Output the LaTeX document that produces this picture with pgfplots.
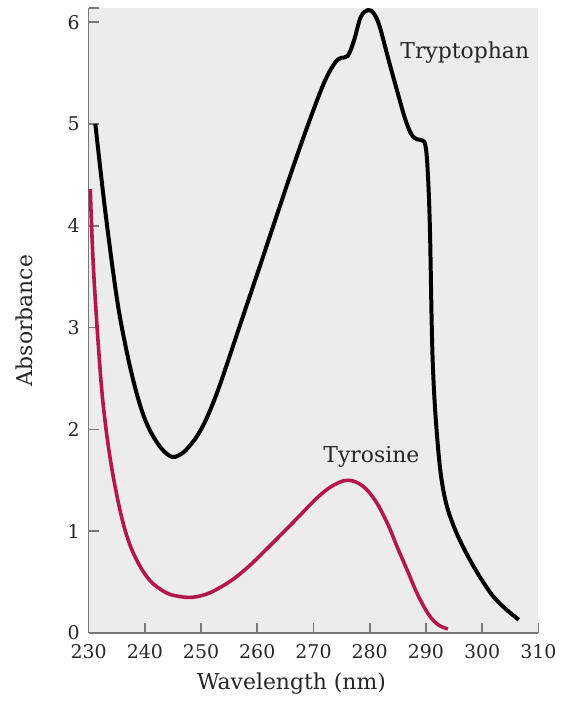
\documentclass[border=0pt]{standalone}
\usepackage{fontspec}
\setmainfont{DejaVu Serif}
\usepackage{pgfplots}
\pgfplotsset{compat=1.18}
\definecolor{tyr}{RGB}{180,22,78}
\definecolor{axgray}{RGB}{120,120,120}
\begin{document}
\begin{tikzpicture}
\begin{axis}[
  scale only axis,
  width=226pt, height=314pt,
  xmin=230, xmax=310, ymin=0, ymax=6.14,
  xtick={230,240,...,310},
  ytick={0,1,...,6},
  extra y ticks={6.14}, extra y tick labels={},
  axis x line*=bottom, axis y line*=left,
  axis line style={-, axgray, line width=0.8pt},
  every tick/.style={axgray, line width=0.8pt},
  tick align=inside,
  major tick length=5pt,
  axis background/.style={fill=gray!15},
  /pgf/number format/assume math mode=true,
  /pgf/number format/1000 sep={},
  tick label style={font=\fontsize{9.5}{11}\selectfont, text=black!85},
  yticklabel style={xshift=-1pt},
  xticklabel style={yshift=-2pt},
  every axis y label/.style={at={(axis description cs:-0.142,0.5)},rotate=90,anchor=center},
  every axis x label/.style={at={(axis description cs:0.451,-0.081)},anchor=center},
  label style={font=\fontsize{11}{13}\selectfont, text=black!85},
  xlabel={Wavelength (nm)},
  ylabel={Absorbance},
  clip=false,
]
\addplot[black, line width=2pt, smooth, tension=0.6] coordinates {
(231.2,5.00) (233.0,4.13) (235.0,3.30) (236.5,2.84) (238.0,2.47) (239.5,2.18)
(241.0,1.98) (243.0,1.81) (244.8,1.73) (246.0,1.745) (247.0,1.78) (248.0,1.84)
(249.0,1.91) (250.0,2.00) (251.0,2.11) (252.0,2.24) (253.5,2.46)
(256.6,2.97) (260.2,3.56) (263.7,4.14) (266.7,4.63) (269.6,5.08)
(272.0,5.42) (273.8,5.60) (274.9,5.65) (276.1,5.67) (277.2,5.82) (278.4,6.05)
(279.7,6.12) (280.8,6.08) (281.8,5.95) (283.4,5.62) (285.0,5.30) (286.3,5.05)
(287.4,4.90) (288.4,4.85) (289.3,4.84) (289.9,4.79) (290.3,4.55) (290.7,3.98)
(291.2,2.67) (292.1,1.85) (293.2,1.37) (295.0,1.04) (298.0,0.70) (301.4,0.40)
(303.9,0.25) (306.5,0.13)
};
\addplot[tyr, line width=1.8pt, smooth, tension=0.6] coordinates {
(230.3,4.36) (230.9,3.55) (232.1,2.55) (233.0,2.05) (234.0,1.66) (235.0,1.36)
(236.0,1.11) (237.0,0.92) (238.0,0.78) (239.0,0.67) (240.0,0.58) (241.0,0.51)
(242.0,0.46) (244.0,0.39) (246.0,0.36) (248.1,0.35) (250.3,0.37)
(252.5,0.42) (255.5,0.52) (258.4,0.65) (261.4,0.81) (264.3,0.97) (267.5,1.15)
(270.5,1.32) (273.2,1.44) (276.0,1.50) (278.6,1.45) (281.0,1.30) (283.2,1.07)
(285.0,0.83) (286.8,0.60) (288.5,0.38) (290.5,0.18) (292.2,0.08) (293.9,0.04)
};
\node[font=\fontsize{11}{13}\selectfont, text=black!85] at (axis cs:296.9,5.70) {Tryptophan};
\node[font=\fontsize{11}{13}\selectfont, text=black!85] at (axis cs:280.3,1.73) {Tyrosine};
\end{axis}
\path[use as bounding box] (-44.5pt,-32.5pt) rectangle (236.5pt,318pt);
\end{tikzpicture}
\end{document}
